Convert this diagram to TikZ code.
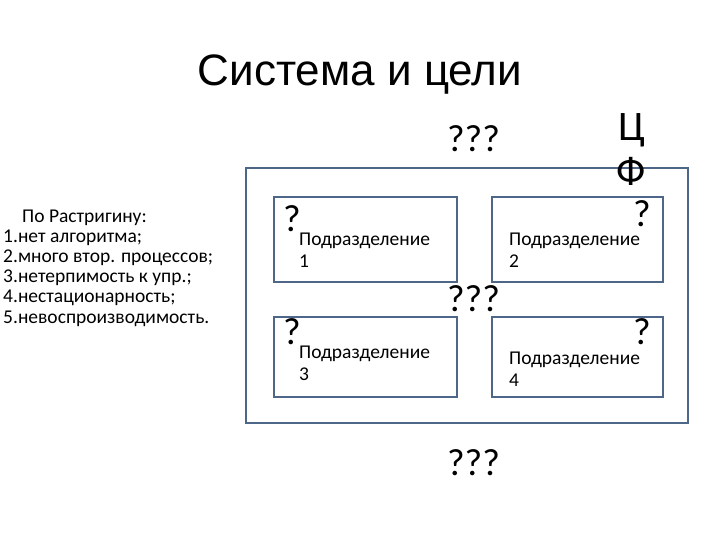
\documentclass[tikz,border=0pt]{standalone}
\usepackage{fontspec}
\setmainfont{Carlito}
\newfontfamily\arialfont{Liberation Sans}
\usetikzlibrary{positioning}
\definecolor{frameblue}{RGB}{78,102,136}

\begin{document}
\begin{tikzpicture}[x=1pt,y=-1pt,node distance=33pt,
    frame/.style={draw=frameblue,line width=2pt,rectangle,inner sep=0pt},
    unit/.style={frame,minimum width=183pt,minimum height=85pt},
    unitname/.style={anchor=base west,inner sep=0pt,align=left,font=\fontsize{19.5}{22}\selectfont},
    ask/.style={inner sep=0pt,font=\fontsize{38}{40}\selectfont}]
    \useasboundingbox (0,0) rectangle (720,540);
    \node[anchor=base,inner sep=0pt,font=\arialfont\fontsize{44}{50}\selectfont] (title) at (360,86) {Система и цели};
    % outer system
    \node[frame,minimum width=442pt,minimum height=255pt] (sys) at (467,295.5) {};
    \node[unit] (u_1) at (365.5,239.5) {};
    \node[unit,minimum width=171pt] (u_2) [right=of u_1] {};
    \node[unit,minimum height=80pt] (u_3) [below=of u_1] {};
    \node[unit,minimum width=171pt,minimum height=80pt] (u_4) [below=of u_2] {};
    % base of a two-line node is the last line
    \node[unitname] (n_1) at (299,267) {Подразделение\\1};
    \node[unitname] (n_2) at (509,267) {Подразделение\\2};
    \node[unitname] (n_3) at (299,380) {Подразделение\\3};
    \node[unitname] (n_4) at (509,386) {Подразделение\\4};
    \node[ask,anchor=base west] (q_1) at (283,232) {?};
    \node[ask,anchor=base east] (q_2) at (651,226) {?};
    \node[ask,anchor=base west] (q_3) at (283,344) {?};
    \node[ask,anchor=base east] (q_4) at (651,344) {?};
    \node[ask,anchor=base] (qqq_top) at (473.5,152) {???};
    \node[ask,anchor=base] (qqq_mid) at (473.5,311) {???};
    \node[ask,anchor=base] (qqq_bot) at (473.5,475) {???};
    % goal function
    \node[anchor=base,inner sep=0pt,align=center,font=\fontsize{42}{46}\selectfont] (cf) at (631.5,186) {Ц\\Ф};
    \node[anchor=base west,inner sep=0pt,align=left,font=\fontsize{19.5}{20.2}\selectfont] (list) at (3,323)
        {\hspace*{19pt}По Растригину:\\1.нет алгоритма;\\2.много втор. процессов;\\3.нетерпимость к упр.;\\4.нестационарность;\\5.невоспроизводимость.};
\end{tikzpicture}
\end{document}
